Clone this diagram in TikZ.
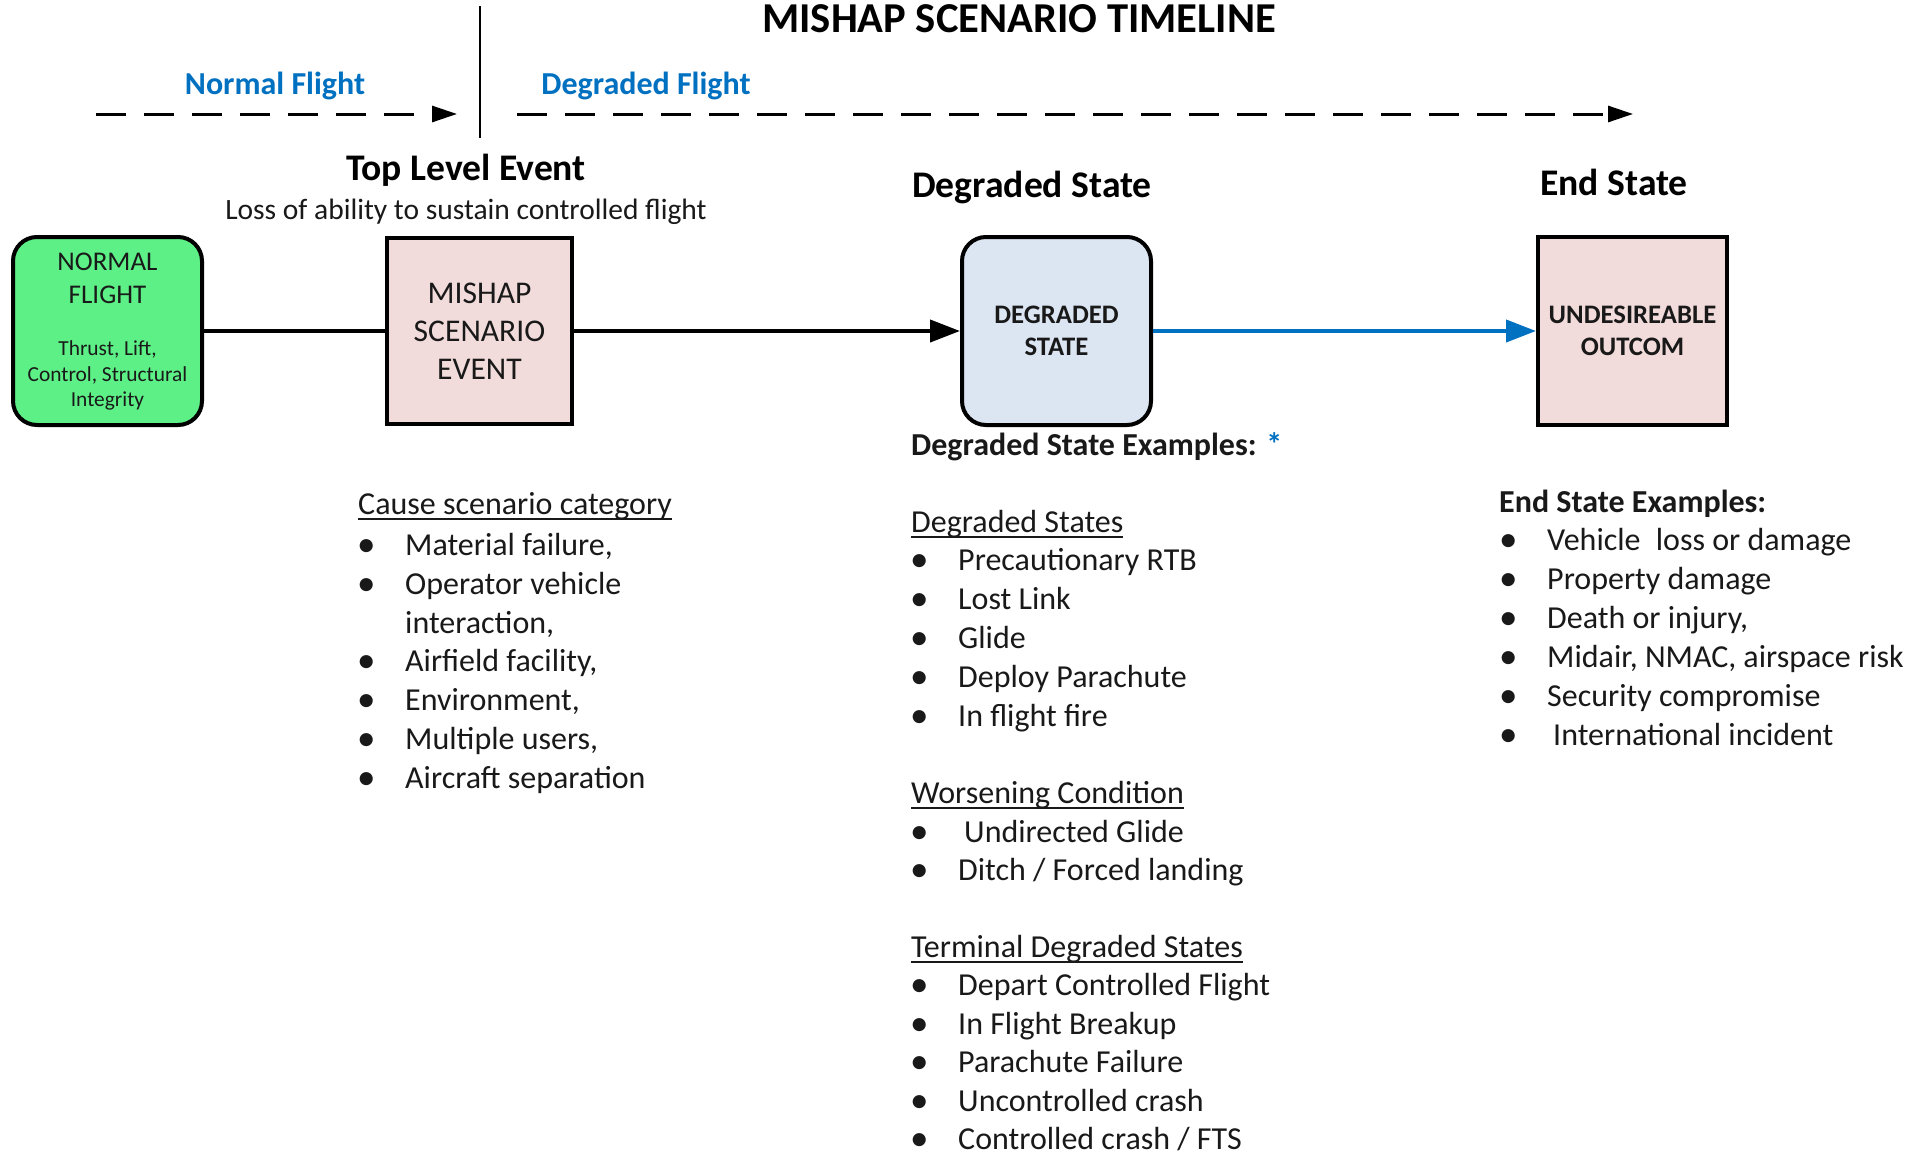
\documentclass[tikz,border=0pt]{standalone}
\usepackage{fontspec}
\setmainfont{Carlito}
\usetikzlibrary{arrows.meta}

\definecolor{flightblue}{RGB}{0,112,192}
\definecolor{normalgreen}{RGB}{92,240,134}
\definecolor{eventpink}{RGB}{242,220,219}
\definecolor{statefill}{RGB}{220,230,242}
\definecolor{ink}{RGB}{25,25,25}

% font size with baseline skip
\newcommand\fsz[2]{\fontsize{#1}{#2}\selectfont}
% bullet followed by a fixed indent
\newcommand\bul{\makebox[48pt][l]{\raisebox{-1.5pt}{\fsz{37}{37}\textbullet}}}
% underlined list heading
\newcommand\hdr[1]{\sbox0{#1}\rlap{\rule[-6pt]{\wd0}{2pt}}\usebox0}

\tikzset{
  every node/.style={inner sep=0pt, text=ink},
  box/.style={draw=black, line width=4pt, align=center,
    minimum width=189pt, minimum height=188pt},
  roundbox/.style={box, rounded corners=24pt},
  boxline/.style={anchor=base},
  body/.style={font=\fsz{32}{38}, anchor=base west},
  bodyb/.style={font=\bfseries\fsz{32}{38}, anchor=base west},
  heading/.style={font=\bfseries\fsz{37.6}{40}, anchor=base, text=black},
  phase/.style={font=\bfseries\fsz{32}{36}, text=flightblue, anchor=base},
  timeline/.style={line width=3pt, dash pattern=on 30pt off 18pt,
    -{Triangle[length=25pt,width=16pt]}},
  link/.style={line width=4pt, draw=black},
  linkarrow/.style={link, -{Triangle[length=30pt,width=22pt]}},
  bluelink/.style={line width=4pt, draw=flightblue,
    -{Triangle[length=30pt,width=22pt]}},
}

\begin{document}
\begin{tikzpicture}[x=1pt,y=-1pt]
\useasboundingbox[fill=white] (0,0) rectangle (1930,1159);

% ---- timeline header ----
\node[font=\bfseries\fsz{42.6}{46}, anchor=base, text=black] (title) at (1019,32) {MISHAP SCENARIO TIMELINE};

\coordinate (div-top) at (480,6);
\coordinate (div-bot) at (480,138);
\draw[line width=2.5pt] (div-top) -- (div-bot);

\node[phase] (nf) at (275,94) {Normal Flight};
\node[phase] (df) at (646,94) {Degraded Flight};
\coordinate (nf-a) at (96,114);
\coordinate (nf-b) at (457,114);
\coordinate (df-a) at (517,114);
\coordinate (df-b) at (1633,114);
\draw[timeline] (nf-a) -- (nf-b);
\draw[timeline] (df-a) -- (df-b);

% ---- stage headings ----
\node[heading] (tle) at (466,180) {Top Level Event};
\node[font=\fsz{29.5}{32}, anchor=base] (tle-sub) at (466,219) {Loss of ability to sustain controlled flight};
\node[heading] (ds-head) at (1032,197) {Degraded State};
\node[heading] (es-head) at (1614,195) {End State};

% ---- stage boxes ----
\node[roundbox, fill=normalgreen] (normal) at (107.5,331) {};
\node[boxline, font=\fsz{27}{33}] (normal-l1) at (107.5,270.5) {NORMAL};
\node[boxline, font=\fsz{27}{33}] (normal-l2) at (107.5,303.5) {FLIGHT};
\node[boxline, font=\fsz{21.4}{26}] (normal-l3) at (107.5,355.5) {Thrust, Lift,};
\node[boxline, font=\fsz{21.4}{26}] (normal-l4) at (107.5,381.5) {Control, Structural};
\node[boxline, font=\fsz{21.4}{26}] (normal-l5) at (107.5,406.5) {Integrity};

\node[box, fill=eventpink, minimum width=185pt, minimum height=186pt, font=\fsz{31.6}{38.2}] (mishap) at (479.5,331)
  {MISHAP\\SCENARIO\\EVENT};
\node[roundbox, fill=statefill, font=\bfseries\fsz{26.7}{32}] (degraded) at (1056.5,331)
  {DEGRADED\\STATE};
\node[box, fill=eventpink, font=\bfseries\fsz{26.7}{32}] (outcome) at (1632.5,331)
  {UNDESIREABLE\\OUTCOM};

% ---- connectors ----
\draw[link] (normal.east) -- (mishap.west);
\draw[linkarrow] (mishap.east) -- (degraded.west);
\draw[bluelink] (degraded.east) -- (outcome.west);

% ---- cause scenario list ----
\node[body] (cause-h) at (358,514) {\hdr{Cause scenario category}};
\node[body] (cause-1) at (357,555) {\bul Material failure,};
\node[body] (cause-2) at (357,594) {\bul Operator vehicle};
\node[body] (cause-2b) at (405,633) {interaction,};
\node[body] (cause-3) at (357,671) {\bul Airfield facility,};
\node[body] (cause-4) at (357,710) {\bul Environment,};
\node[body] (cause-5) at (357,749) {\bul Multiple users,};
\node[body] (cause-6) at (357,788) {\bul Aircraft separation};

% ---- degraded state examples ----
\node[bodyb] (dse-h) at (911,455) {Degraded State Examples: \textcolor{flightblue}{*}};
\node[body] (ds-h) at (911,532) {\hdr{Degraded States}};
\node[body] (ds-1) at (910,570) {\bul Precautionary RTB};
\node[body] (ds-2) at (910,609) {\bul Lost Link};
\node[body] (ds-3) at (910,648) {\bul Glide};
\node[body] (ds-4) at (910,687) {\bul Deploy Parachute};
\node[body] (ds-5) at (910,726) {\bul In flight fire};
\node[body] (wc-h) at (911,803) {\hdr{Worsening Condition}};
\node[body] (wc-1) at (910,842) {\bul\hspace{6pt}Undirected Glide};
\node[body] (wc-2) at (910,880) {\bul Ditch / Forced landing};
\node[body] (td-h) at (911,957) {\hdr{Terminal Degraded States}};
\node[body] (td-1) at (910,995) {\bul Depart Controlled Flight};
\node[body] (td-2) at (910,1034) {\bul In Flight Breakup};
\node[body] (td-3) at (910,1072) {\bul Parachute Failure};
\node[body] (td-4) at (910,1111) {\bul Uncontrolled crash};
\node[body] (td-5) at (910,1149) {\bul Controlled crash / FTS};

% ---- end state examples ----
\node[bodyb] (es-h) at (1499,512) {End State Examples:};
\node[body] (es-1) at (1499,550) {\bul Vehicle\hspace{8pt} loss or damage};
\node[body] (es-2) at (1499,589) {\bul Property damage};
\node[body] (es-3) at (1499,628) {\bul Death or injury,};
\node[body] (es-4) at (1499,667) {\bul Midair, NMAC, airspace risk};
\node[body] (es-5) at (1499,706) {\bul Security compromise};
\node[body] (es-6) at (1499,745) {\bul\hspace{6pt}International incident};
\end{tikzpicture}
\end{document}
